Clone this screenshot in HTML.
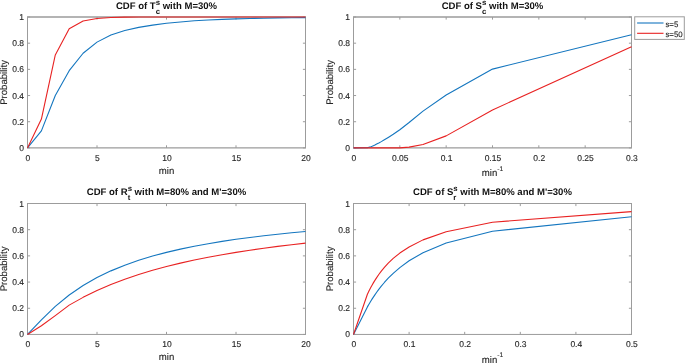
<!DOCTYPE html>
<html><head><meta charset="utf-8"><style>
html,body{margin:0;padding:0;background:#fff;}
body{width:685px;height:363px;overflow:hidden;}
svg{display:block;font-family:"Liberation Sans",sans-serif;will-change:transform;text-rendering:geometricPrecision;}
svg text{fill:#262626;stroke:#262626;stroke-width:0.12px;}
svg text[font-weight]{stroke:none;fill:#111;}
</style></head><body>
<svg width="685" height="363" viewBox="0 0 685 363">
<rect width="685" height="363" fill="#fff"/>
<line x1="27.5" y1="147.9" x2="27.5" y2="145.3" stroke="#9c9c9c" stroke-width="1"/>
<line x1="27.5" y1="17" x2="27.5" y2="19.6" stroke="#9c9c9c" stroke-width="1"/>
<line x1="97" y1="147.9" x2="97" y2="145.3" stroke="#9c9c9c" stroke-width="1"/>
<line x1="97" y1="17" x2="97" y2="19.6" stroke="#9c9c9c" stroke-width="1"/>
<line x1="166.5" y1="147.9" x2="166.5" y2="145.3" stroke="#9c9c9c" stroke-width="1"/>
<line x1="166.5" y1="17" x2="166.5" y2="19.6" stroke="#9c9c9c" stroke-width="1"/>
<line x1="236" y1="147.9" x2="236" y2="145.3" stroke="#9c9c9c" stroke-width="1"/>
<line x1="236" y1="17" x2="236" y2="19.6" stroke="#9c9c9c" stroke-width="1"/>
<line x1="305.5" y1="147.9" x2="305.5" y2="145.3" stroke="#9c9c9c" stroke-width="1"/>
<line x1="305.5" y1="17" x2="305.5" y2="19.6" stroke="#9c9c9c" stroke-width="1"/>
<line x1="27.5" y1="147.9" x2="30.1" y2="147.9" stroke="#9c9c9c" stroke-width="1"/>
<line x1="305.5" y1="147.9" x2="302.9" y2="147.9" stroke="#9c9c9c" stroke-width="1"/>
<line x1="27.5" y1="121.72" x2="30.1" y2="121.72" stroke="#9c9c9c" stroke-width="1"/>
<line x1="305.5" y1="121.72" x2="302.9" y2="121.72" stroke="#9c9c9c" stroke-width="1"/>
<line x1="27.5" y1="95.54" x2="30.1" y2="95.54" stroke="#9c9c9c" stroke-width="1"/>
<line x1="305.5" y1="95.54" x2="302.9" y2="95.54" stroke="#9c9c9c" stroke-width="1"/>
<line x1="27.5" y1="69.36" x2="30.1" y2="69.36" stroke="#9c9c9c" stroke-width="1"/>
<line x1="305.5" y1="69.36" x2="302.9" y2="69.36" stroke="#9c9c9c" stroke-width="1"/>
<line x1="27.5" y1="43.18" x2="30.1" y2="43.18" stroke="#9c9c9c" stroke-width="1"/>
<line x1="305.5" y1="43.18" x2="302.9" y2="43.18" stroke="#9c9c9c" stroke-width="1"/>
<line x1="27.5" y1="17" x2="30.1" y2="17" stroke="#9c9c9c" stroke-width="1"/>
<line x1="305.5" y1="17" x2="302.9" y2="17" stroke="#9c9c9c" stroke-width="1"/>
<path d="M27 17H306M27 147.9H306" stroke="#9c9c9c" stroke-width="1.3" fill="none"/>
<path d="M27.5 17V147.9M305.5 17V147.9" stroke="#9c9c9c" stroke-width="1" fill="none"/>
<polyline points="27.5,147.9 41.4,130.88 55.3,95.54 69.2,70.67 83.1,53.26 97,42.13 110.9,34.93 124.8,30.48 138.7,27.34 152.6,25.12 166.5,23.28 180.4,21.97 194.3,20.8 208.2,20.01 222.1,19.36 236,18.83 249.9,18.44 263.8,18.18 277.7,17.92 291.6,17.79 305.5,17.65" fill="none" stroke="#1476bf" stroke-width="1.1" stroke-linejoin="round"/>
<polyline points="27.5,147.9 41.4,119.1 55.3,54.96 69.2,28.78 83.1,21.06 97,18.44 110.9,17.52 124.8,17.13 138.7,17 152.6,17 166.5,17 180.4,17 194.3,17 208.2,17 222.1,17 236,17 249.9,17 263.8,17 277.7,17 291.6,17 305.5,17" fill="none" stroke="#e82222" stroke-width="1.1" stroke-linejoin="round"/>
<text x="27.9" y="160.9" text-anchor="middle" font-size="8.5">0</text>
<text x="97.4" y="160.9" text-anchor="middle" font-size="8.5">5</text>
<text x="166.9" y="160.9" text-anchor="middle" font-size="8.5">10</text>
<text x="236.4" y="160.9" text-anchor="middle" font-size="8.5">15</text>
<text x="305.9" y="160.9" text-anchor="middle" font-size="8.5">20</text>
<text x="24.1" y="150.9" text-anchor="end" font-size="8.5">0</text>
<text x="24.1" y="124.72" text-anchor="end" font-size="8.5">0.2</text>
<text x="24.1" y="98.54" text-anchor="end" font-size="8.5">0.4</text>
<text x="24.1" y="72.36" text-anchor="end" font-size="8.5">0.6</text>
<text x="24.1" y="46.18" text-anchor="end" font-size="8.5">0.8</text>
<text x="24.1" y="20" text-anchor="end" font-size="8.5">1</text>
<text x="166.5" y="173.9" text-anchor="middle" font-size="9.6">min</text>
<text transform="translate(6.7,82.45) rotate(-90)" text-anchor="middle" font-size="9.6">Probability</text>
<text x="115.92" y="8.75" font-size="9.55" font-weight="bold">CDF of T</text>
<text x="155.7" y="4.75" font-size="7.8" font-weight="bold">s</text>
<text x="155.7" y="13.55" font-size="7.8" font-weight="bold">c</text>
<text x="160.04" y="8.75" font-size="9.55" font-weight="bold" xml:space="preserve"> with M=30%</text>
<line x1="353.5" y1="147.9" x2="353.5" y2="145.3" stroke="#9c9c9c" stroke-width="1"/>
<line x1="353.5" y1="17" x2="353.5" y2="19.6" stroke="#9c9c9c" stroke-width="1"/>
<line x1="399.83" y1="147.9" x2="399.83" y2="145.3" stroke="#9c9c9c" stroke-width="1"/>
<line x1="399.83" y1="17" x2="399.83" y2="19.6" stroke="#9c9c9c" stroke-width="1"/>
<line x1="446.17" y1="147.9" x2="446.17" y2="145.3" stroke="#9c9c9c" stroke-width="1"/>
<line x1="446.17" y1="17" x2="446.17" y2="19.6" stroke="#9c9c9c" stroke-width="1"/>
<line x1="492.5" y1="147.9" x2="492.5" y2="145.3" stroke="#9c9c9c" stroke-width="1"/>
<line x1="492.5" y1="17" x2="492.5" y2="19.6" stroke="#9c9c9c" stroke-width="1"/>
<line x1="538.83" y1="147.9" x2="538.83" y2="145.3" stroke="#9c9c9c" stroke-width="1"/>
<line x1="538.83" y1="17" x2="538.83" y2="19.6" stroke="#9c9c9c" stroke-width="1"/>
<line x1="585.17" y1="147.9" x2="585.17" y2="145.3" stroke="#9c9c9c" stroke-width="1"/>
<line x1="585.17" y1="17" x2="585.17" y2="19.6" stroke="#9c9c9c" stroke-width="1"/>
<line x1="631.5" y1="147.9" x2="631.5" y2="145.3" stroke="#9c9c9c" stroke-width="1"/>
<line x1="631.5" y1="17" x2="631.5" y2="19.6" stroke="#9c9c9c" stroke-width="1"/>
<line x1="353.5" y1="147.9" x2="356.1" y2="147.9" stroke="#9c9c9c" stroke-width="1"/>
<line x1="631.5" y1="147.9" x2="628.9" y2="147.9" stroke="#9c9c9c" stroke-width="1"/>
<line x1="353.5" y1="121.72" x2="356.1" y2="121.72" stroke="#9c9c9c" stroke-width="1"/>
<line x1="631.5" y1="121.72" x2="628.9" y2="121.72" stroke="#9c9c9c" stroke-width="1"/>
<line x1="353.5" y1="95.54" x2="356.1" y2="95.54" stroke="#9c9c9c" stroke-width="1"/>
<line x1="631.5" y1="95.54" x2="628.9" y2="95.54" stroke="#9c9c9c" stroke-width="1"/>
<line x1="353.5" y1="69.36" x2="356.1" y2="69.36" stroke="#9c9c9c" stroke-width="1"/>
<line x1="631.5" y1="69.36" x2="628.9" y2="69.36" stroke="#9c9c9c" stroke-width="1"/>
<line x1="353.5" y1="43.18" x2="356.1" y2="43.18" stroke="#9c9c9c" stroke-width="1"/>
<line x1="631.5" y1="43.18" x2="628.9" y2="43.18" stroke="#9c9c9c" stroke-width="1"/>
<line x1="353.5" y1="17" x2="356.1" y2="17" stroke="#9c9c9c" stroke-width="1"/>
<line x1="631.5" y1="17" x2="628.9" y2="17" stroke="#9c9c9c" stroke-width="1"/>
<path d="M353 17H632M353 147.9H632" stroke="#9c9c9c" stroke-width="1.3" fill="none"/>
<path d="M353.5 17V147.9M631.5 17V147.9" stroke="#9c9c9c" stroke-width="1" fill="none"/>
<polyline points="353.5,147.9 367.4,147.77 368.14,147.51 368.98,147.25 369.81,146.98 370.88,146.66 372.03,146.26 373.33,145.67 374.91,144.89 376.67,143.97 378.8,142.93 381.3,141.62 384.36,139.78 388.25,137.43 393.25,134.29 399.83,129.7 409.1,122.51 423,111.12 446.17,95.02 492.5,69.1 631.5,34.8" fill="none" stroke="#1476bf" stroke-width="1.1" stroke-linejoin="round"/>
<polyline points="353.5,147.9 399.83,147.9 409.1,147.11 423,144.5 446.17,135.86 492.5,109.94 631.5,46.71" fill="none" stroke="#e82222" stroke-width="1.1" stroke-linejoin="round"/>
<text x="353.9" y="160.9" text-anchor="middle" font-size="8.5">0</text>
<text x="400.23" y="160.9" text-anchor="middle" font-size="8.5">0.05</text>
<text x="446.57" y="160.9" text-anchor="middle" font-size="8.5">0.1</text>
<text x="492.9" y="160.9" text-anchor="middle" font-size="8.5">0.15</text>
<text x="539.23" y="160.9" text-anchor="middle" font-size="8.5">0.2</text>
<text x="585.57" y="160.9" text-anchor="middle" font-size="8.5">0.25</text>
<text x="631.9" y="160.9" text-anchor="middle" font-size="8.5">0.3</text>
<text x="350.1" y="150.9" text-anchor="end" font-size="8.5">0</text>
<text x="350.1" y="124.72" text-anchor="end" font-size="8.5">0.2</text>
<text x="350.1" y="98.54" text-anchor="end" font-size="8.5">0.4</text>
<text x="350.1" y="72.36" text-anchor="end" font-size="8.5">0.6</text>
<text x="350.1" y="46.18" text-anchor="end" font-size="8.5">0.8</text>
<text x="350.1" y="20" text-anchor="end" font-size="8.5">1</text>
<text x="481.79" y="176" font-size="9.6">min</text>
<text x="497.26" y="170.8" font-size="6.7">-1</text>
<text transform="translate(332.7,82.45) rotate(-90)" text-anchor="middle" font-size="9.6">Probability</text>
<text x="441.65" y="8.75" font-size="9.55" font-weight="bold">CDF of S</text>
<text x="481.97" y="4.75" font-size="7.8" font-weight="bold">s</text>
<text x="481.97" y="13.55" font-size="7.8" font-weight="bold">c</text>
<text x="486.3" y="8.75" font-size="9.55" font-weight="bold" xml:space="preserve"> with M=30%</text>
<line x1="27.5" y1="334.45" x2="27.5" y2="331.85" stroke="#9c9c9c" stroke-width="1"/>
<line x1="27.5" y1="203.5" x2="27.5" y2="206.1" stroke="#9c9c9c" stroke-width="1"/>
<line x1="97" y1="334.45" x2="97" y2="331.85" stroke="#9c9c9c" stroke-width="1"/>
<line x1="97" y1="203.5" x2="97" y2="206.1" stroke="#9c9c9c" stroke-width="1"/>
<line x1="166.5" y1="334.45" x2="166.5" y2="331.85" stroke="#9c9c9c" stroke-width="1"/>
<line x1="166.5" y1="203.5" x2="166.5" y2="206.1" stroke="#9c9c9c" stroke-width="1"/>
<line x1="236" y1="334.45" x2="236" y2="331.85" stroke="#9c9c9c" stroke-width="1"/>
<line x1="236" y1="203.5" x2="236" y2="206.1" stroke="#9c9c9c" stroke-width="1"/>
<line x1="305.5" y1="334.45" x2="305.5" y2="331.85" stroke="#9c9c9c" stroke-width="1"/>
<line x1="305.5" y1="203.5" x2="305.5" y2="206.1" stroke="#9c9c9c" stroke-width="1"/>
<line x1="27.5" y1="334.45" x2="30.1" y2="334.45" stroke="#9c9c9c" stroke-width="1"/>
<line x1="305.5" y1="334.45" x2="302.9" y2="334.45" stroke="#9c9c9c" stroke-width="1"/>
<line x1="27.5" y1="308.26" x2="30.1" y2="308.26" stroke="#9c9c9c" stroke-width="1"/>
<line x1="305.5" y1="308.26" x2="302.9" y2="308.26" stroke="#9c9c9c" stroke-width="1"/>
<line x1="27.5" y1="282.07" x2="30.1" y2="282.07" stroke="#9c9c9c" stroke-width="1"/>
<line x1="305.5" y1="282.07" x2="302.9" y2="282.07" stroke="#9c9c9c" stroke-width="1"/>
<line x1="27.5" y1="255.88" x2="30.1" y2="255.88" stroke="#9c9c9c" stroke-width="1"/>
<line x1="305.5" y1="255.88" x2="302.9" y2="255.88" stroke="#9c9c9c" stroke-width="1"/>
<line x1="27.5" y1="229.69" x2="30.1" y2="229.69" stroke="#9c9c9c" stroke-width="1"/>
<line x1="305.5" y1="229.69" x2="302.9" y2="229.69" stroke="#9c9c9c" stroke-width="1"/>
<line x1="27.5" y1="203.5" x2="30.1" y2="203.5" stroke="#9c9c9c" stroke-width="1"/>
<line x1="305.5" y1="203.5" x2="302.9" y2="203.5" stroke="#9c9c9c" stroke-width="1"/>
<path d="M27 203.5H306M27 334.45H306" stroke="#9c9c9c" stroke-width="1.0" fill="none"/>
<path d="M27.5 203.5V334.45M305.5 203.5V334.45" stroke="#9c9c9c" stroke-width="1" fill="none"/>
<polyline points="27.5,334.45 41.4,319.91 55.3,306.35 69.2,294.96 83.1,285.48 97,277.55 110.9,270.87 124.8,265.17 138.7,260.29 152.6,256.06 166.5,252.36 180.4,249.12 194.3,246.24 208.2,243.68 222.1,241.39 236,239.33 249.9,237.47 263.8,235.77 277.7,234.23 291.6,232.82 305.5,231.52" fill="none" stroke="#1476bf" stroke-width="1.1" stroke-linejoin="round"/>
<polyline points="27.5,334.45 41.4,325.81 55.3,315.59 69.2,305.14 83.1,297.36 97,290.54 110.9,284.54 124.8,279.23 138.7,274.51 152.6,270.3 166.5,266.53 180.4,263.13 194.3,260.05 208.2,257.25 222.1,254.7 236,252.36 249.9,250.22 263.8,248.24 277.7,246.42 291.6,244.73 305.5,243.16" fill="none" stroke="#e82222" stroke-width="1.1" stroke-linejoin="round"/>
<text x="27.9" y="347.45" text-anchor="middle" font-size="8.5">0</text>
<text x="97.4" y="347.45" text-anchor="middle" font-size="8.5">5</text>
<text x="166.9" y="347.45" text-anchor="middle" font-size="8.5">10</text>
<text x="236.4" y="347.45" text-anchor="middle" font-size="8.5">15</text>
<text x="305.9" y="347.45" text-anchor="middle" font-size="8.5">20</text>
<text x="24.1" y="337.45" text-anchor="end" font-size="8.5">0</text>
<text x="24.1" y="311.26" text-anchor="end" font-size="8.5">0.2</text>
<text x="24.1" y="285.07" text-anchor="end" font-size="8.5">0.4</text>
<text x="24.1" y="258.88" text-anchor="end" font-size="8.5">0.6</text>
<text x="24.1" y="232.69" text-anchor="end" font-size="8.5">0.8</text>
<text x="24.1" y="206.5" text-anchor="end" font-size="8.5">1</text>
<text x="166.5" y="360.45" text-anchor="middle" font-size="9.6">min</text>
<text transform="translate(6.7,268.98) rotate(-90)" text-anchor="middle" font-size="9.6">Probability</text>
<text x="86.78" y="194.55" font-size="9.55" font-weight="bold">CDF of R</text>
<text x="127.63" y="191.35" font-size="7.8" font-weight="bold">s</text>
<text x="127.63" y="200.35" font-size="7.8" font-weight="bold">t</text>
<text x="131.97" y="194.55" font-size="9.55" font-weight="bold" xml:space="preserve"> with M=80% and M'=30%</text>
<line x1="353.5" y1="334.45" x2="353.5" y2="331.85" stroke="#9c9c9c" stroke-width="1"/>
<line x1="353.5" y1="203.5" x2="353.5" y2="206.1" stroke="#9c9c9c" stroke-width="1"/>
<line x1="409.1" y1="334.45" x2="409.1" y2="331.85" stroke="#9c9c9c" stroke-width="1"/>
<line x1="409.1" y1="203.5" x2="409.1" y2="206.1" stroke="#9c9c9c" stroke-width="1"/>
<line x1="464.7" y1="334.45" x2="464.7" y2="331.85" stroke="#9c9c9c" stroke-width="1"/>
<line x1="464.7" y1="203.5" x2="464.7" y2="206.1" stroke="#9c9c9c" stroke-width="1"/>
<line x1="520.3" y1="334.45" x2="520.3" y2="331.85" stroke="#9c9c9c" stroke-width="1"/>
<line x1="520.3" y1="203.5" x2="520.3" y2="206.1" stroke="#9c9c9c" stroke-width="1"/>
<line x1="575.9" y1="334.45" x2="575.9" y2="331.85" stroke="#9c9c9c" stroke-width="1"/>
<line x1="575.9" y1="203.5" x2="575.9" y2="206.1" stroke="#9c9c9c" stroke-width="1"/>
<line x1="631.5" y1="334.45" x2="631.5" y2="331.85" stroke="#9c9c9c" stroke-width="1"/>
<line x1="631.5" y1="203.5" x2="631.5" y2="206.1" stroke="#9c9c9c" stroke-width="1"/>
<line x1="353.5" y1="334.45" x2="356.1" y2="334.45" stroke="#9c9c9c" stroke-width="1"/>
<line x1="631.5" y1="334.45" x2="628.9" y2="334.45" stroke="#9c9c9c" stroke-width="1"/>
<line x1="353.5" y1="308.26" x2="356.1" y2="308.26" stroke="#9c9c9c" stroke-width="1"/>
<line x1="631.5" y1="308.26" x2="628.9" y2="308.26" stroke="#9c9c9c" stroke-width="1"/>
<line x1="353.5" y1="282.07" x2="356.1" y2="282.07" stroke="#9c9c9c" stroke-width="1"/>
<line x1="631.5" y1="282.07" x2="628.9" y2="282.07" stroke="#9c9c9c" stroke-width="1"/>
<line x1="353.5" y1="255.88" x2="356.1" y2="255.88" stroke="#9c9c9c" stroke-width="1"/>
<line x1="631.5" y1="255.88" x2="628.9" y2="255.88" stroke="#9c9c9c" stroke-width="1"/>
<line x1="353.5" y1="229.69" x2="356.1" y2="229.69" stroke="#9c9c9c" stroke-width="1"/>
<line x1="631.5" y1="229.69" x2="628.9" y2="229.69" stroke="#9c9c9c" stroke-width="1"/>
<line x1="353.5" y1="203.5" x2="356.1" y2="203.5" stroke="#9c9c9c" stroke-width="1"/>
<line x1="631.5" y1="203.5" x2="628.9" y2="203.5" stroke="#9c9c9c" stroke-width="1"/>
<path d="M353 203.5H632M353 334.45H632" stroke="#9c9c9c" stroke-width="1.0" fill="none"/>
<path d="M353.5 203.5V334.45M631.5 203.5V334.45" stroke="#9c9c9c" stroke-width="1" fill="none"/>
<polyline points="353.5,334.45 367.4,306.89 368.13,305.61 368.94,304.21 369.85,302.69 370.88,301.01 372.03,299.16 373.36,297.11 374.88,294.83 376.67,292.29 378.77,289.42 381.3,286.18 384.39,282.48 388.25,278.23 393.21,273.32 399.83,267.57 409.1,260.8 423,252.72 446.17,243 492.5,231.24 631.5,216.73" fill="none" stroke="#1476bf" stroke-width="1.1" stroke-linejoin="round"/>
<polyline points="353.5,334.45 367.4,294.23 368.13,292.69 368.94,291.02 369.85,289.23 370.88,287.28 372.03,285.17 373.36,282.87 374.88,280.35 376.67,277.58 378.77,274.53 381.3,271.15 384.39,267.39 388.25,263.18 393.21,258.44 399.83,253.07 409.1,246.94 423,239.88 446.17,231.72 492.5,222.19 631.5,211.62" fill="none" stroke="#e82222" stroke-width="1.1" stroke-linejoin="round"/>
<text x="353.9" y="347.45" text-anchor="middle" font-size="8.5">0</text>
<text x="409.5" y="347.45" text-anchor="middle" font-size="8.5">0.1</text>
<text x="465.1" y="347.45" text-anchor="middle" font-size="8.5">0.2</text>
<text x="520.7" y="347.45" text-anchor="middle" font-size="8.5">0.3</text>
<text x="576.3" y="347.45" text-anchor="middle" font-size="8.5">0.4</text>
<text x="631.9" y="347.45" text-anchor="middle" font-size="8.5">0.5</text>
<text x="350.1" y="337.45" text-anchor="end" font-size="8.5">0</text>
<text x="350.1" y="311.26" text-anchor="end" font-size="8.5">0.2</text>
<text x="350.1" y="285.07" text-anchor="end" font-size="8.5">0.4</text>
<text x="350.1" y="258.88" text-anchor="end" font-size="8.5">0.6</text>
<text x="350.1" y="232.69" text-anchor="end" font-size="8.5">0.8</text>
<text x="350.1" y="206.5" text-anchor="end" font-size="8.5">1</text>
<text x="481.79" y="362.55" font-size="9.6">min</text>
<text x="497.26" y="357.35" font-size="6.7">-1</text>
<text transform="translate(332.7,268.98) rotate(-90)" text-anchor="middle" font-size="9.6">Probability</text>
<text x="413.05" y="194.55" font-size="9.55" font-weight="bold">CDF of S</text>
<text x="453.36" y="191.35" font-size="7.8" font-weight="bold">s</text>
<text x="453.36" y="200.35" font-size="7.8" font-weight="bold">r</text>
<text x="457.7" y="194.55" font-size="9.55" font-weight="bold" xml:space="preserve"> with M=80% and M'=30%</text>
<rect x="634.7" y="16.8" width="49.6" height="22.6" fill="#fff" stroke="#9c9c9c" stroke-width="1"/>
<line x1="637.1" y1="23" x2="663.5" y2="23" stroke="#1476bf" stroke-width="1.1"/>
<line x1="637.1" y1="33.3" x2="663.5" y2="33.3" stroke="#e82222" stroke-width="1.1"/>
<text x="665.4" y="26.9" font-size="7.85">s=5</text>
<text x="665.4" y="36.9" font-size="7.85">s=50</text>
</svg>
</body></html>
